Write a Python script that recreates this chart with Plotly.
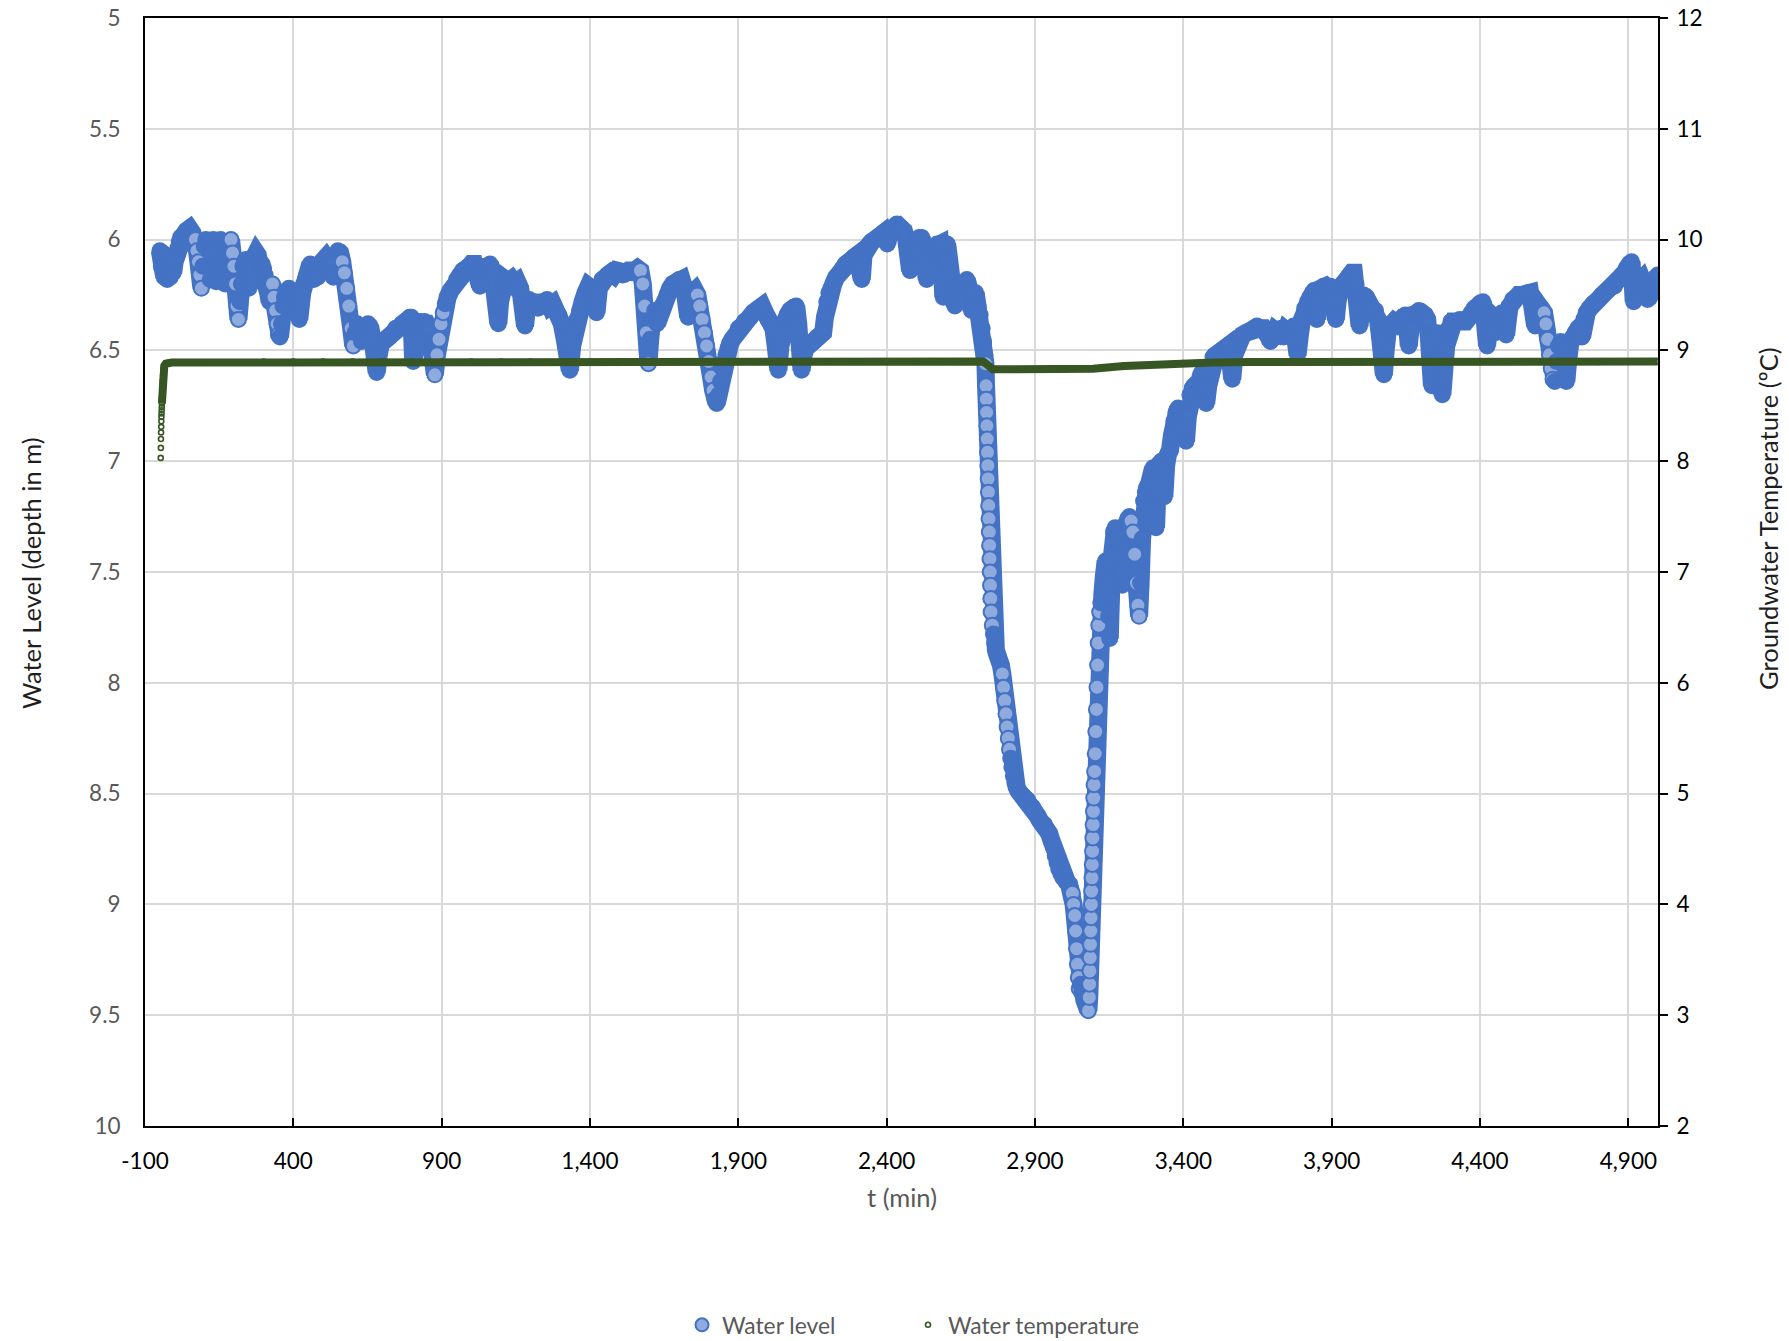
import plotly.graph_objects as go
import numpy as np

# ---------------- data ----------------
t_level = [
    -50, -45, -40, -35, -30, -25, -20, -15, -10, -5, 0, 5, 10, 15, 20, 30, 40, 50, 60, 70,
    75, 80, 85, 90, 95, 100, 105, 110, 115, 120, 125, 130, 135, 140, 145, 150, 155, 160, 165, 170,
    175, 180, 185, 190, 195, 200, 205, 210, 215, 220, 225, 230, 235, 240, 245, 250, 255, 260, 265, 270,
    275, 280, 285, 290, 295, 300, 305, 310, 315, 320, 325, 330, 335, 340, 345, 350, 355, 360, 365, 370,
    375, 380, 385, 390, 395, 400, 405, 410, 415, 420, 425, 430, 435, 440, 445, 450, 457, 463, 469, 475,
    482, 490, 500, 510, 520, 528, 535, 542, 550, 558, 565, 572, 580, 587, 595, 602, 608, 615, 622,
    630, 638, 645, 652, 660, 668, 675, 681, 688, 695, 705, 715, 725, 735, 745, 755, 765, 775, 785, 792,
    798, 804, 810, 818, 826, 834, 842, 850, 858, 865, 871, 877, 884, 891, 898,
    905, 912, 920, 930, 940, 950, 960, 970, 980, 990, 1000, 1010, 1020, 1029, 1036, 1045, 1055, 1063, 1070, 1078,
    1085, 1091, 1097, 1105, 1115, 1125, 1135, 1145, 1155, 1165, 1172, 1181, 1188, 1195,
    1205, 1215, 1225, 1235, 1245, 1255, 1265, 1275, 1285, 1295, 1305, 1315, 1325, 1332, 1340, 1348, 1356, 1365, 1375, 1385,
    1395, 1405, 1415, 1422, 1430, 1440, 1450, 1460, 1470, 1480, 1490, 1500, 1510, 1520, 1530, 1540, 1550, 1560,
    1570, 1578, 1584, 1590, 1597, 1603, 1610, 1618, 1626, 1634, 1642, 1650, 1660, 1670, 1680, 1690, 1700, 1709, 1718, 1725,
    1731, 1738, 1746, 1754, 1762, 1770, 1778, 1786, 1793, 1800, 1808, 1815, 1821, 1827, 1834, 1840, 1846, 1852, 1858, 1865,
    1872, 1880, 1890, 1900, 1910, 1920, 1930, 1940, 1950, 1960, 1970, 1980, 1990, 2000, 2010, 2018, 2026, 2035, 2042, 2050,
    2058, 2066, 2075, 2085, 2095, 2102, 2108, 2113, 2120, 2128, 2136, 2145, 2155, 2165, 2175, 2186, 2192, 2198, 2205, 2212,
    2220, 2230, 2240, 2250, 2260, 2270, 2280, 2290, 2300, 2308, 2316, 2322, 2330, 2340, 2350, 2360, 2370, 2380, 2389, 2396,
    2402, 2410, 2418, 2426, 2434, 2442, 2450, 2458, 2466, 2473, 2479, 2486, 2494, 2502, 2510, 2518, 2526, 2535, 2542, 2550,
    2560, 2570, 2580, 2586, 2591, 2597, 2604, 2612, 2620, 2630, 2638, 2646, 2655, 2662, 2670, 2678, 2686, 2693, 2700, 2708,
    2715, 2722, 2727, 2731,
    2733, 2735, 2736, 2737, 2738, 2739, 2740, 2741, 2742, 2743, 2744, 2745, 2746, 2747, 2748, 2749, 2750, 2751, 2752,
    2756, 2760, 2764, 2768, 2772, 2776, 2780, 2785, 2790, 2794, 2798, 2802, 2806, 2810, 2814, 2818, 2822, 2827, 2832, 2838,
    2845, 2852, 2860, 2868, 2876, 2884, 2892, 2900, 2908, 2916, 2924, 2932, 2940, 2948, 2955, 2962, 2968, 2974, 2980, 2987,
    2994, 3001, 3008, 3015, 3021, 3026, 3030, 3034, 3037, 3040, 3043, 3046, 3049, 3054, 3058, 3062, 3066, 3070, 3075, 3080,
    3083, 3084, 3085, 3086, 3087, 3088, 3089, 3090, 3091, 3092, 3093, 3094, 3095, 3096, 3097, 3098, 3099, 3101, 3103, 3105,
    3107, 3109, 3111, 3113, 3115, 3118, 3122, 3127,
    3132, 3138, 3143, 3148, 3152, 3156, 3160, 3165, 3170, 3176, 3182, 3188, 3194, 3200, 3206, 3212, 3218, 3224, 3230, 3236,
    3242, 3247, 3251, 3256, 3261, 3266, 3272, 3278, 3285, 3292, 3298, 3303, 3308, 3313, 3318, 3325, 3330, 3336, 3342, 3348,
    3355, 3362, 3368, 3375, 3382, 3390, 3396, 3402, 3409, 3415, 3422, 3430, 3438, 3446, 3454, 3462, 3470, 3477, 3484, 3492,
    3500, 3510, 3520, 3530, 3540, 3550, 3558, 3565, 3572, 3580, 3590, 3600, 3612, 3624, 3636, 3648,
    3660, 3670, 3680, 3688, 3694, 3700, 3710, 3720, 3730, 3738, 3746, 3755, 3765, 3772, 3778, 3785, 3792, 3800, 3809, 3818,
    3826, 3834, 3840, 3846, 3850, 3856, 3864, 3872, 3880, 3888, 3896, 3904, 3910, 3914, 3920, 3928, 3936, 3944, 3952, 3960,
    3968, 3975, 3982, 3988, 3994, 4000, 4008, 4016, 4024, 4032, 4040, 4048, 4056, 4064, 4070, 4076, 4082, 4090, 4100, 4110,
    4120, 4130, 4140, 4148, 4155, 4160, 4166, 4174, 4184, 4194, 4204, 4214, 4222, 4228, 4234, 4238, 4244, 4250, 4256, 4262,
    4268, 4273, 4279, 4286, 4294, 4302, 4312, 4322, 4332, 4342, 4352, 4360, 4370, 4380, 4390, 4400, 4410, 4416, 4420, 4424,
    4430, 4438, 4446, 4452, 4458, 4466, 4474, 4482, 4488, 4494, 4500, 4510, 4520, 4530, 4540, 4550, 4560, 4569, 4576, 4582,
    4586, 4592, 4600, 4608, 4616, 4622, 4628, 4634, 4640, 4646, 4652, 4658, 4664, 4672, 4680, 4686, 4691, 4697, 4704, 4712,
    4720, 4730, 4737, 4744, 4750, 4760, 4770, 4780, 4790, 4800, 4810, 4819, 4828, 4836, 4845, 4853, 4862, 4870, 4878, 4888,
    4895, 4903, 4911, 4915, 4918, 4924, 4932, 4940, 4946, 4952, 4958, 4965, 4970, 4978, 4986, 4993, 4999,
]

water_level = [
    6.05, 6.12, 6.06, 6.17, 6.10, 6.18, 6.08, 6.17, 6.12, 6.15, 6.10, 6.08, 6.04, 6.01, 5.99, 5.98, 5.96, 5.95, 5.97, 6.00,
    6.05, 6.10, 6.16, 6.22, 6.12, 6.03, 6.00, 6.02, 6.03, 6.18, 6.05, 6.00, 6.12, 6.19, 6.10, 6.03, 6.00, 6.08, 6.15, 6.20,
    6.12, 6.05, 6.01, 6.00, 6.06, 6.12, 6.20, 6.30, 6.36, 6.28, 6.20, 6.12, 6.10, 6.09, 6.15, 6.22, 6.15, 6.10, 6.08, 6.07,
    6.06, 6.07, 6.10, 6.12, 6.11, 6.13, 6.16, 6.20, 6.24, 6.28, 6.24, 6.20, 6.26, 6.32, 6.38, 6.43, 6.44, 6.38, 6.30, 6.26,
    6.24, 6.23, 6.22, 6.23, 6.24, 6.23, 6.24, 6.26, 6.30, 6.36, 6.30, 6.24, 6.20, 6.18, 6.16, 6.14, 6.11, 6.15, 6.18, 6.12,
    6.17, 6.11, 6.10, 6.08, 6.10, 6.14, 6.17, 6.10, 6.05, 6.06, 6.10, 6.15, 6.22, 6.30, 6.40, 6.48, 6.42, 6.38, 6.40,
    6.46, 6.44, 6.40, 6.38, 6.40, 6.46, 6.53, 6.60, 6.52, 6.47, 6.46, 6.45, 6.44, 6.42, 6.40, 6.40, 6.38, 6.37, 6.36, 6.35,
    6.35, 6.55, 6.42, 6.38, 6.37, 6.38, 6.37, 6.38, 6.40, 6.47, 6.55, 6.61, 6.52, 6.45, 6.38,
    6.33, 6.29, 6.26, 6.23, 6.21, 6.18, 6.16, 6.14, 6.13, 6.12, 6.11, 6.11, 6.14, 6.21, 6.15, 6.12, 6.12, 6.11, 6.14, 6.20,
    6.30, 6.38, 6.28, 6.20, 6.18, 6.19, 6.18, 6.20, 6.19, 6.22, 6.28, 6.39, 6.30, 6.27,
    6.30, 6.28, 6.31, 6.28, 6.30, 6.27, 6.30, 6.29, 6.32, 6.34, 6.38, 6.45, 6.53, 6.59, 6.48, 6.40, 6.36, 6.32, 6.28, 6.24,
    6.21, 6.22, 6.28, 6.33, 6.22, 6.18, 6.17, 6.16, 6.15, 6.16, 6.14, 6.15, 6.16, 6.15, 6.14, 6.15, 6.14, 6.13,
    6.14, 6.20, 6.30, 6.42, 6.56, 6.45, 6.36, 6.32, 6.38, 6.34, 6.30, 6.28, 6.25, 6.22, 6.20, 6.19, 6.18, 6.18, 6.22, 6.30,
    6.35, 6.28, 6.24, 6.23, 6.25, 6.30, 6.36, 6.42, 6.48, 6.55, 6.62, 6.68, 6.72, 6.74, 6.70, 6.64, 6.58, 6.55, 6.52, 6.49,
    6.47, 6.45, 6.43, 6.40, 6.39, 6.37, 6.36, 6.35, 6.33, 6.32, 6.31, 6.30, 6.33, 6.36, 6.38, 6.40, 6.48, 6.59, 6.48, 6.40,
    6.36, 6.34, 6.32, 6.31, 6.30, 6.38, 6.50, 6.59, 6.52, 6.49, 6.48, 6.47, 6.46, 6.44, 6.43, 6.42, 6.35, 6.28, 6.24, 6.22,
    6.20, 6.17, 6.15, 6.13, 6.11, 6.10, 6.09, 6.08, 6.07, 6.10, 6.18, 6.07, 6.04, 6.02, 6.01, 6.00, 5.99, 5.98, 5.97, 6.00,
    6.02, 5.96, 5.95, 5.94, 5.93, 5.94, 5.95, 5.96, 6.00, 6.08, 6.14, 6.06, 6.02, 6.00, 5.99, 5.99, 6.06, 6.18, 6.08, 6.04,
    6.03, 6.02, 6.02, 6.12, 6.26, 6.10, 6.02, 6.15, 6.22, 6.30, 6.24, 6.22, 6.26, 6.20, 6.18, 6.22, 6.32, 6.25, 6.24, 6.30,
    6.34, 6.40, 6.46, 6.52,
    6.56, 6.66, 6.72, 6.78, 6.84, 6.90, 6.96, 7.02, 7.08, 7.14, 7.20, 7.26, 7.32, 7.38, 7.44, 7.50, 7.56, 7.62, 7.68,
    7.74, 7.78, 7.82, 7.85, 7.87, 7.88, 7.90, 7.92, 7.96, 8.02, 8.08, 8.14, 8.20, 8.25, 8.30, 8.34, 8.38, 8.42, 8.45, 8.47,
    8.49, 8.50, 8.51, 8.52, 8.53, 8.55, 8.56, 8.58, 8.60, 8.62, 8.63, 8.64, 8.66, 8.68, 8.71, 8.74, 8.78, 8.81, 8.84, 8.86,
    8.88, 8.89, 8.90, 8.91, 8.93, 8.95, 9.00, 9.05, 9.12, 9.20, 9.27, 9.33, 9.38, 9.36, 9.40, 9.38, 9.43, 9.45, 9.47, 9.48,
    9.42, 9.36, 9.30, 9.24, 9.18, 9.12, 9.06, 9.00, 8.94, 8.88, 8.82, 8.76, 8.70, 8.64, 8.58, 8.52, 8.46, 8.40, 8.32, 8.22,
    8.12, 8.02, 7.92, 7.82, 7.74, 7.68, 7.64, 7.60,
    7.52, 7.45, 7.55, 7.70, 7.80, 7.62, 7.42, 7.32, 7.30, 7.34, 7.42, 7.50, 7.56, 7.40, 7.28, 7.26, 7.25, 7.27, 7.32, 7.42,
    7.55, 7.65, 7.70, 7.55, 7.35, 7.18, 7.14, 7.12, 7.10, 7.06, 7.03, 7.15, 7.30, 7.12, 7.02, 7.00, 7.05, 7.16, 7.02, 6.97,
    6.95, 6.88, 6.82, 6.78, 6.76, 6.77, 6.80, 6.86, 6.91, 6.80, 6.70, 6.67, 6.66, 6.65, 6.64, 6.60, 6.66, 6.74, 6.66, 6.58,
    6.53, 6.52, 6.51, 6.50, 6.49, 6.48, 6.55, 6.63, 6.52, 6.47, 6.45, 6.43, 6.42, 6.41, 6.40, 6.39,
    6.40, 6.40, 6.41, 6.44, 6.46, 6.42, 6.41, 6.42, 6.40, 6.44, 6.41, 6.42, 6.40, 6.39, 6.45, 6.52, 6.44, 6.36, 6.31, 6.28,
    6.26, 6.25, 6.23, 6.30, 6.36, 6.26, 6.22, 6.21, 6.21, 6.22, 6.21, 6.26, 6.32, 6.36, 6.28, 6.22, 6.20, 6.19, 6.18, 6.16,
    6.15, 6.15, 6.20, 6.30, 6.39, 6.30, 6.25, 6.26, 6.28, 6.31, 6.33, 6.32, 6.36, 6.45, 6.55, 6.61, 6.50, 6.40, 6.38, 6.37,
    6.38, 6.37, 6.36, 6.34, 6.40, 6.48, 6.40, 6.34, 6.33, 6.32, 6.33, 6.34, 6.36, 6.45, 6.56, 6.66, 6.55, 6.45, 6.42, 6.52,
    6.63, 6.70, 6.60, 6.48, 6.40, 6.37, 6.37, 6.37, 6.36, 6.37, 6.37, 6.35, 6.33, 6.31, 6.30, 6.29, 6.28, 6.34, 6.42, 6.48,
    6.38, 6.34, 6.35, 6.42, 6.36, 6.34, 6.33, 6.38, 6.43, 6.36, 6.30, 6.27, 6.26, 6.25, 6.25, 6.25, 6.24, 6.24, 6.30, 6.36,
    6.39, 6.32, 6.30, 6.31, 6.33, 6.38, 6.45, 6.52, 6.58, 6.63, 6.64, 6.55, 6.48, 6.46, 6.50, 6.58, 6.64, 6.55, 6.47, 6.44,
    6.42, 6.40, 6.39, 6.44, 6.36, 6.33, 6.31, 6.29, 6.28, 6.27, 6.25, 6.24, 6.23, 6.22, 6.21, 6.21, 6.19, 6.18, 6.16, 6.15,
    6.13, 6.11, 6.10, 6.20, 6.28, 6.22, 6.20, 6.19, 6.18, 6.20, 6.23, 6.27, 6.26, 6.22, 6.19, 6.17, 6.16,
]

t_temp = [
    -47.0, -46.6, -46.2, -45.8, -45.4, -45.0, -44.6, -44.2, -43.8, -43.4, -43.0, -42.6, -42.2, -41.8, -41.4,
    -41.0, -40.5, -40.0, -39.0, -38.0, -37.0, -35.0, -30.0, -20.0, -10.0, 0,
    100, 200, 300, 400, 500, 600, 700, 800, 900, 1000, 1100, 1200, 1300, 1400, 1500, 1600, 1700, 1800, 1900,
    2000, 2100, 2200, 2300, 2400, 2500, 2600, 2700, 2725, 2740, 2758, 2800, 2900, 3000, 3095, 3200, 3300, 3400,
    3500, 3625, 3800, 4000, 4200, 4400, 4600, 4800, 4999,
]

water_temp = [
    8.03, 8.12, 8.20, 8.26, 8.31, 8.36, 8.40, 8.43, 8.46, 8.49, 8.52, 8.55, 8.58, 8.61, 8.64,
    8.67, 8.70, 8.73, 8.77, 8.81, 8.84, 8.86, 8.88, 8.89, 8.89, 8.89,
    8.89, 8.89, 8.90, 8.90, 8.90, 8.90, 8.90, 8.90, 8.90, 8.90, 8.90, 8.90, 8.90, 8.90, 8.90, 8.90, 8.90, 8.90, 8.90,
    8.90, 8.90, 8.90, 8.90, 8.90, 8.90, 8.90, 8.90, 8.90, 8.87, 8.83, 8.83, 8.83, 8.83, 8.835, 8.86, 8.875, 8.885,
    8.89, 8.895, 8.895, 8.895, 8.895, 8.895, 8.895, 8.895, 8.90,
]

x_tick_vals = [-100, 400, 900, 1400, 1900, 2400, 2900, 3400, 3900, 4400, 4900]
x_tick_text = ["-100", "400", "900", "1,400", "1,900", "2,400", "2,900", "3,400", "3,900", "4,400", "4,900"]
level_tick_vals = [5, 5.5, 6, 6.5, 7, 7.5, 8, 8.5, 9, 9.5, 10]
level_tick_text = ["5", "5.5", "6", "6.5", "7", "7.5", "8", "8.5", "9", "9.5", "10"]
temp_tick_vals = [2, 3, 4, 5, 6, 7, 8, 9, 10, 11, 12]
temp_tick_text = ["2", "3", "4", "5", "6", "7", "8", "9", "10", "11", "12"]

# ---------------- styling ----------------
FONT = "Lato"
BLUE = "#4472C4"
LIGHT_BLUE = "#8FAADC"
GREEN = "#375623"
GRID = "#D9D9D9"
GREY_TXT = "#595959"
TICK_SIZE = 22.5
TITLE_SIZE = 25.5
LEGEND_SIZE = 22.8

W, H = 1789, 1341
L, R, T, B = 145, 131, 18, 215
pw, ph = W - L - R, H - T - B


def px_x(x):
    return (x - L) / pw


def px_y(y):
    return (H - B - y) / ph


# light-filled circles where the level runs steadily and quickly in one direction
# (stacked circles in the reference); everything else is a solid band
wl = np.array(water_level)
d = np.diff(wl)
big = np.abs(d) > 0.045
run_id = np.zeros(len(d), dtype=int)
rid = 0
for i in range(len(d)):
    if i > 0 and big[i] and big[i - 1] and np.sign(d[i]) == np.sign(d[i - 1]):
        run_id[i] = run_id[i - 1]
    else:
        rid += 1
        run_id[i] = rid
light = np.zeros(len(wl), dtype=bool)
for r in np.unique(run_id):
    idx = np.where(run_id == r)[0]
    if big[idx[0]] and len(idx) >= 4:
        light[idx[0]:idx[-1] + 2] = True
level_colors = [LIGHT_BLUE if s else BLUE for s in light]

wt = np.array(water_temp)
start_line = int(np.argmax(wt >= 8.5))

fig = go.Figure()

# water level: thick band + markers
fig.add_trace(go.Scatter(
    x=t_level, y=water_level, mode="lines", yaxis="y",
    line=dict(color=BLUE, width=18), showlegend=False, hoverinfo="skip"))
fig.add_trace(go.Scatter(
    x=t_level, y=water_level, mode="markers", yaxis="y",
    marker=dict(size=15, color=level_colors, line=dict(color=BLUE, width=2)),
    showlegend=False, name="Water level"))

# water temperature
fig.add_trace(go.Scatter(
    x=t_temp[start_line:], y=water_temp[start_line:], mode="lines", yaxis="y2",
    line=dict(color=GREEN, width=8), showlegend=False, hoverinfo="skip"))
fig.add_trace(go.Scatter(
    x=t_temp, y=water_temp, mode="markers", yaxis="y2",
    marker=dict(size=5, color="rgba(0,0,0,0)", line=dict(color=GREEN, width=1.6)),
    showlegend=False, name="Water temperature"))

# legend entries
fig.add_trace(go.Scatter(
    x=[None], y=[None], mode="markers", name="Water level", legend="legend",
    marker=dict(size=13, color=LIGHT_BLUE, line=dict(color=BLUE, width=2))))
fig.add_trace(go.Scatter(
    x=[None], y=[None], mode="markers", name="Water temperature", legend="legend2", yaxis="y2",
    marker=dict(size=5, color="white", line=dict(color=GREEN, width=1.6))))

fig.update_layout(
    width=W, height=H,
    margin=dict(l=L, r=R, t=T, b=B, pad=0, autoexpand=False),
    paper_bgcolor="white", plot_bgcolor="white",
    font=dict(family=FONT, size=TICK_SIZE, color="black"),
    xaxis=dict(
        range=[-100, 5000], tickvals=x_tick_vals, ticktext=x_tick_text,
        showgrid=True, gridcolor=GRID, gridwidth=1.5, zeroline=False,
        showline=True, linecolor="black", linewidth=2, mirror=True,
        ticks="inside", ticklen=8, tickwidth=2, tickcolor="black",
        tickfont=dict(family=FONT, size=TICK_SIZE, color="black"),
        ticklabelstandoff=14, automargin=False,
    ),
    yaxis=dict(
        range=[10, 5], tickvals=level_tick_vals, ticktext=level_tick_text,
        showgrid=True, gridcolor=GRID, gridwidth=1.5, zeroline=False,
        showline=True, linecolor="black", linewidth=2,
        ticks="", tickfont=dict(family=FONT, size=TICK_SIZE, color=GREY_TXT),
        ticklabelstandoff=18, automargin=False,
    ),
    yaxis2=dict(
        range=[2, 12], tickvals=temp_tick_vals, ticktext=temp_tick_text,
        overlaying="y", side="right", showgrid=False, zeroline=False,
        showline=True, linecolor="black", linewidth=2,
        ticks="outside", ticklen=8, tickwidth=2, tickcolor="black",
        tickfont=dict(family=FONT, size=TICK_SIZE, color="black"),
        ticklabelstandoff=4, automargin=False,
    ),
    legend=dict(
        x=px_x(682), y=px_y(1325), xanchor="left", yanchor="middle",
        orientation="h", font=dict(family=FONT, size=LEGEND_SIZE, color=GREY_TXT),
        bgcolor="rgba(0,0,0,0)",
    ),
    legend2=dict(
        x=px_x(908), y=px_y(1325), xanchor="left", yanchor="middle",
        orientation="h", font=dict(family=FONT, size=LEGEND_SIZE, color=GREY_TXT),
        bgcolor="rgba(0,0,0,0)",
    ),
    annotations=[
        dict(text="t (min)", xref="paper", yref="paper", x=px_x(902), y=px_y(1197),
             xanchor="center", yanchor="middle", showarrow=False,
             font=dict(family=FONT, size=TITLE_SIZE, color=GREY_TXT)),
        dict(text="Water Level (depth in m)", xref="paper", yref="paper", x=px_x(31), y=px_y(573),
             xanchor="center", yanchor="middle", showarrow=False, textangle=-90,
             font=dict(family=FONT, size=TITLE_SIZE, color="#1f1f1f")),
        dict(text="Groundwater Temperature (ºC)", xref="paper", yref="paper", x=px_x(1768), y=px_y(518),
             xanchor="center", yanchor="middle", showarrow=False, textangle=-90,
             font=dict(family=FONT, size=TITLE_SIZE, color="#1f1f1f")),
    ],
)

fig.write_html("out.html")
